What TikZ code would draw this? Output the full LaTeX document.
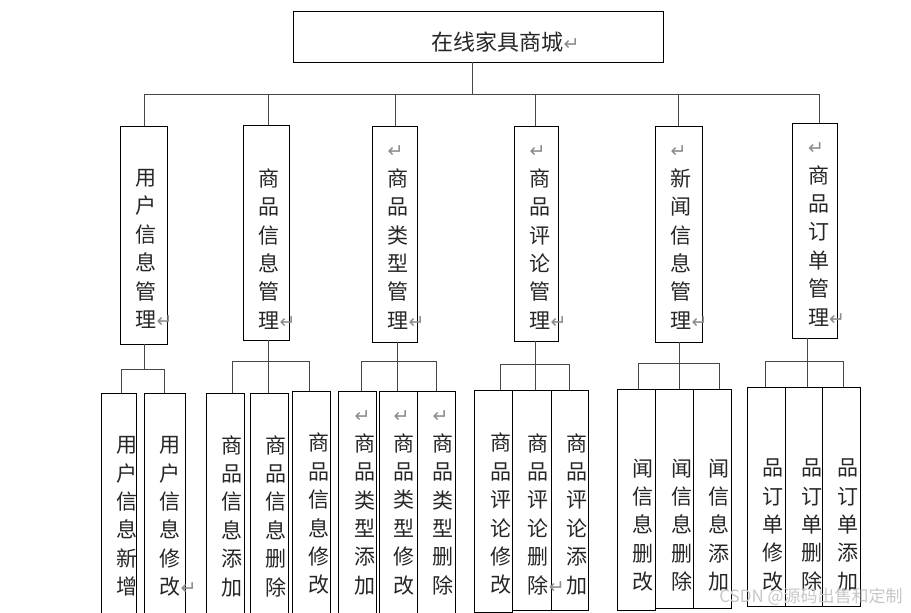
\documentclass[tikz,border=0pt]{standalone}
\usepackage{fontspec}
\newfontfamily\cjk{Noto Sans CJK SC}
\newfontfamily\dvs{DejaVu Sans}
\newcommand\retmark{{\dvs\fontsize{19}{19}\selectfont\color{black!45}↵}}
\newcommand\rr{\rlap{\retmark}}
\newcommand\rt{\makebox[1em][l]{\vphantom{商}\retmark}}
\newcommand\mkbox[5]{\node[box,minimum width={#4-#2},minimum height={#5-#3}] (#1) at ({(#2+#4)/2},{(#3+#5)/2}) {};}
\tikzset{
  box/.style={draw=black,line width=0.9pt,inner sep=0pt,outer sep=0pt,rectangle},
  conn/.style={draw=black!72,line width=0.9pt},
  vt/.style={font=\cjk\fontsize{21}{28.4}\selectfont,align=center,inner sep=0pt,text=black!85},
  wm/.style={font=\cjk\fontsize{17}{17}\selectfont,text=black!22,inner sep=0pt}
}
\begin{document}
\begin{tikzpicture}[x=1pt,y=-1pt]
\useasboundingbox[fill=white] (0,0) rectangle (911,613);
% top
\mkbox{top}{293}{11}{663}{62}
\node[font=\cjk\fontsize{22}{22}\selectfont,inner sep=0pt,text=black!85] (toptxt) at (497.5,42) {在线家具商城\rr};
% level 2
\mkbox{b1}{120.3}{126}{167.7}{344}
\mkbox{b2}{243.3}{125}{289.3}{340}
\mkbox{b3}{372.3}{126}{417.7}{342}
\mkbox{b4}{514.3}{126}{558.3}{341}
\mkbox{b5}{655.3}{126}{702.3}{342}
\mkbox{b6}{792.3}{123}{837.3}{338}
\node[vt] (t1) at (146,249) {用\\户\\信\\息\\管\\理\rr};
\node[vt] (t2) at (269,249) {商\\品\\信\\息\\管\\理\rr};
\node[vt] (t3) at (398,234.7) {\rt\\商\\品\\类\\型\\管\\理\rr};
\node[vt] (t4) at (540,234.7) {\rt\\商\\品\\评\\论\\管\\理\rr};
\node[vt] (t5) at (681,234.7) {\rt\\新\\闻\\信\\息\\管\\理\rr};
\node[vt] (t6) at (818.7,231.5) {\rt\\商\\品\\订\\单\\管\\理\rr};
% level 3
\mkbox{c1a}{101.7}{393}{136}{620}
\mkbox{c1b}{144.3}{393}{185.7}{620}
\mkbox{c2a}{206.7}{393}{244.3}{620}
\mkbox{c2b}{250.7}{393}{288.7}{620}
\mkbox{c2c}{292.7}{391}{330.3}{620}
\mkbox{c3a}{338.3}{391}{376}{620}
\mkbox{c3b}{379.3}{391}{417.3}{620}
\mkbox{c3c}{417.3}{391}{455.7}{620}
\mkbox{c4a}{474.3}{390}{512.3}{612.7}
\mkbox{c4b}{512.3}{390}{551.7}{610.7}
\mkbox{c4c}{551.7}{390}{588.3}{610.7}
\mkbox{c5a}{617.7}{389.3}{655.3}{610}
\mkbox{c5b}{655.3}{389}{693.3}{608.7}
\mkbox{c5c}{693.3}{389}{731.3}{608.3}
\mkbox{c6a}{747.7}{387.3}{785.7}{606.7}
\mkbox{c6b}{785.7}{387.3}{822.7}{606.7}
\mkbox{c6c}{822.7}{387.3}{860}{606.7}
\node[vt] (u1a) at (126.7,516.5) {用\\户\\信\\息\\新\\增};
\node[vt] (u1b) at (170,516.5) {用\\户\\信\\息\\修\\改\rr};
\node[vt] (u2a) at (231.7,516) {商\\品\\信\\息\\添\\加};
\node[vt] (u2b) at (275.7,516) {商\\品\\信\\息\\删\\除};
\node[vt] (u2c) at (319,514) {商\\品\\信\\息\\修\\改};
\node[vt] (u3a) at (365,500) {\rt\\商\\品\\类\\型\\添\\加};
\node[vt] (u3b) at (404,500) {\rt\\商\\品\\类\\型\\修\\改};
\node[vt] (u3c) at (443,500) {\rt\\商\\品\\类\\型\\删\\除};
\node[vt] (u4a) at (500.7,514) {商\\品\\评\\论\\修\\改};
\node[vt] (u4b) at (538.3,514) {商\\品\\评\\论\\删\\除\rr};
\node[vt] (u4c) at (576.7,514) {商\\品\\评\\论\\添\\加};
\node[vt] (u5a) at (643.3,525) {闻\\信\\息\\删\\改};
\node[vt] (u5b) at (681.7,525) {闻\\信\\息\\删\\除};
\node[vt] (u5c) at (719.3,525) {闻\\信\\息\\添\\加};
\node[vt] (u6a) at (773.3,525) {品\\订\\单\\修\\改};
\node[vt] (u6b) at (811.7,525) {品\\订\\单\\删\\除};
\node[vt] (u6c) at (848.3,525) {品\\订\\单\\添\\加};
% connectors top
\coordinate (bus) at (472,94);
\draw[conn] ([xshift=-6pt]top.south) -- (bus);
\draw[conn] ([xshift=0.7pt]b1.north) |- (bus);
\draw[conn] ([xshift=1.7pt]b2.north) |- (bus);
\draw[conn] (b3.north) |- (bus);
\draw[conn] ([xshift=-0.6pt]b4.north) |- (bus);
\draw[conn] (b5.north) |- (bus);
\draw[conn] ([xshift=4.5pt]b6.north) |- (bus);
% group 1
\coordinate (j1) at (144,369);
\draw[conn] (b1.south) -- (j1);
\draw[conn] ([xshift=2.2pt]c1a.north) |- (j1);
\draw[conn] ([xshift=-1pt]c1b.north) |- (j1);
% group 2
\coordinate (j2) at (268,361);
\draw[conn] ([xshift=1.7pt]b2.south) -- (j2);
\draw[conn] ([xshift=6.5pt]c2a.north) |- (j2);
\draw[conn] ([xshift=-1.7pt]c2b.north) |- (j2);
\draw[conn] ([xshift=-2.5pt]c2c.north) |- (j2);
% group 3
\coordinate (j3) at (397.7,361.7);
\draw[conn] ([xshift=2.7pt]b3.south) -- (j3);
\draw[conn] ([xshift=3.8pt]c3a.north) |- (j3);
\draw[conn] ([xshift=-0.6pt]c3b.north) |- (j3);
\draw[conn] ([xshift=-0.5pt]c3c.north) |- (j3);
% group 4
\coordinate (j4) at (535,364);
\draw[conn] ([xshift=-1.3pt]b4.south) -- (j4);
\draw[conn] ([xshift=7.4pt]c4a.north) |- (j4);
\draw[conn] ([xshift=3pt]c4b.north) |- (j4);
\draw[conn] ([xshift=-1pt]c4c.north) |- (j4);
% group 5
\coordinate (j5) at (679.3,363.3);
\draw[conn] ([xshift=0.5pt]b5.south) -- (j5);
\draw[conn] ([xshift=1.8pt]c5a.north) |- (j5);
\draw[conn] ([xshift=5pt]c5b.north) |- (j5);
\draw[conn] ([xshift=6.7pt]c5c.north) |- (j5);
% group 6
\coordinate (j6) at (807.7,361.7);
\draw[conn] ([xshift=-7.1pt]b6.south) -- (j6);
\draw[conn] ([xshift=-1.7pt]c6a.north) |- (j6);
\draw[conn] ([xshift=3.5pt]c6b.north) |- (j6);
\draw[conn] ([xshift=2.3pt]c6c.north) |- (j6);
% watermark
\node[wm] (mark) at (811,597) {CSDN @源码出售和定制};
\end{tikzpicture}
\end{document}
